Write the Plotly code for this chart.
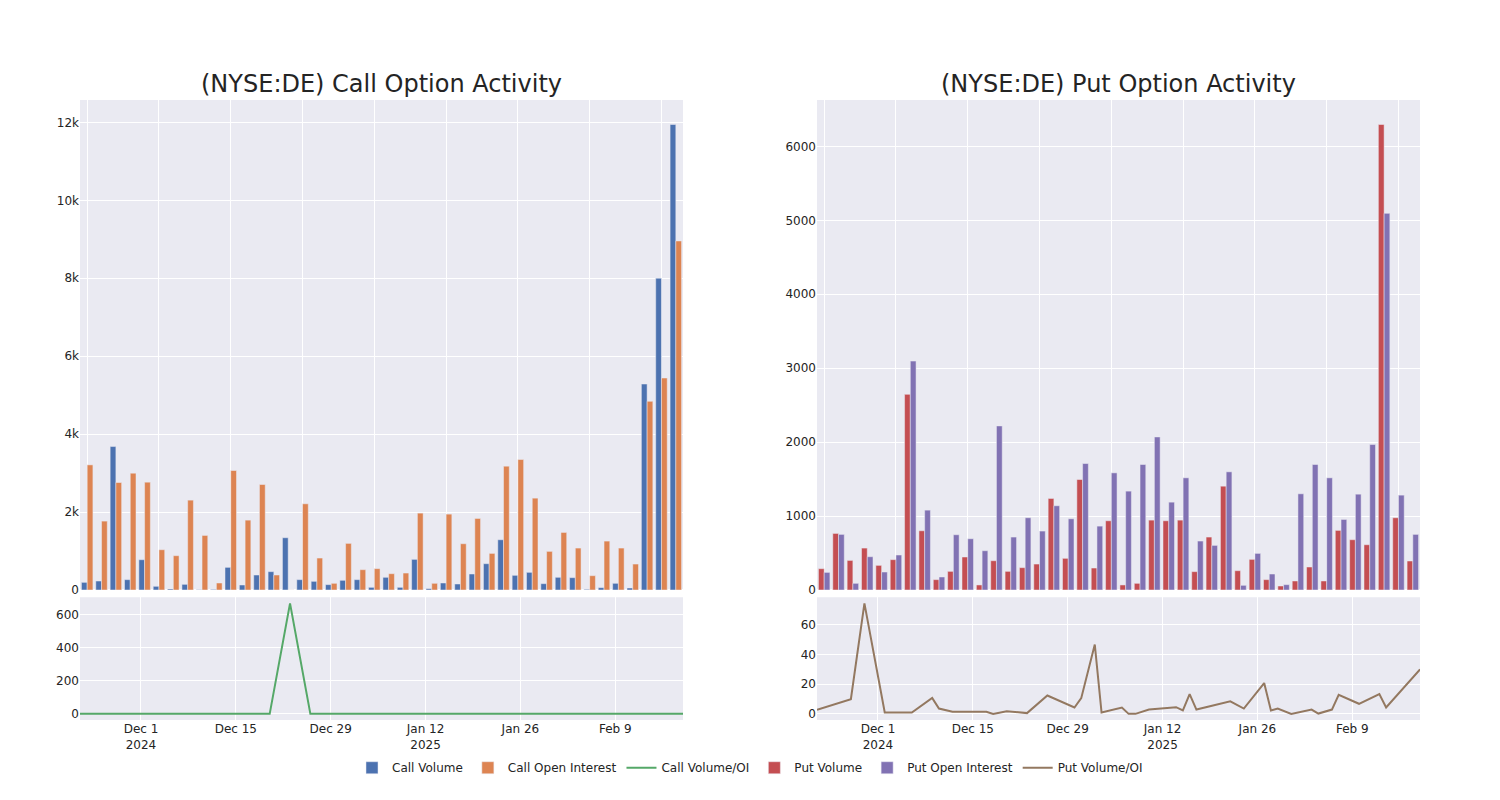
import plotly.graph_objects as go
from plotly.subplots import make_subplots

dates = [
    "2024-11-22", "2024-11-27", "2024-11-29", "2024-12-02", "2024-12-03", "2024-12-04",
    "2024-12-06", "2024-12-09", "2024-12-10", "2024-12-12", "2024-12-13", "2024-12-17",
    "2024-12-18", "2024-12-20", "2024-12-23", "2024-12-26", "2024-12-30", "2024-12-31",
    "2025-01-02", "2025-01-03", "2025-01-06", "2025-01-07", "2025-01-08", "2025-01-10",
    "2025-01-14", "2025-01-15", "2025-01-16", "2025-01-17", "2025-01-22", "2025-01-24",
    "2025-01-27", "2025-01-28", "2025-01-29", "2025-01-31", "2025-02-03", "2025-02-04",
    "2025-02-06", "2025-02-07", "2025-02-10", "2025-02-13", "2025-02-14", "2025-02-19",
]

call_volume = [196, 230, 3681, 265, 777, 94, 26, 145, 8, 15, 581, 128, 384, 470, 1341,
               265, 222, 137, 248, 265, 68, 325, 68, 786, 34, 179, 154, 410, 675, 1289,
               376, 453, 162, 325, 316, 17, 60, 171, 51, 5286, 8002, 11947]
call_oi = [3211, 1768, 2758, 2997, 2767, 1033, 880, 2306, 1400, 179, 3066, 1793, 2707, 384, 2,
           2212, 820, 171, 1196, 521, 547, 418, 435, 1973, 171, 1947, 1187, 1836, 939, 3177,
           3348, 2357, 991, 1477, 1076, 367, 1255, 1076, 666, 4842, 5440, 8958]
call_ratio = [0, 0, 0, 0, 0, 0, 0, 0, 0, 0, 0, 0, 0, 0, 670,
              0, 0, 0, 0, 0, 0, 0, 0, 0, 0, 0, 0, 0, 0, 0,
              0, 0, 0, 0, 0, 0, 0, 0, 0, 0, 0, 0]

put_volume = [288, 765, 400, 567, 333, 410, 2646, 801, 140, 252, 446, 68, 396, 252, 302,
              351, 1238, 428, 1494, 297, 936, 68, 90, 945, 936, 945, 248, 716, 1404, 261,
              414, 140, 54, 122, 311, 122, 806, 680, 612, 6296, 977, 392]
put_oi = [238, 752, 90, 450, 243, 473, 3096, 1080, 176, 747, 693, 531, 2219, 716, 977,
          797, 1139, 963, 1710, 864, 1584, 1337, 1697, 2070, 1188, 1517, 662, 603, 1598, 63,
          495, 216, 72, 1301, 1697, 1517, 954, 1296, 1967, 5094, 1283, 752]
put_ratio = [2.7, 9.9, 74.5, 0.9, 0.9, 0.9, 0.9, 10.8, 3.6, 1.4, 1.4, 1.4, 0.0, 1.8, 0.5,
             12.4, 4.3, 10.6, 46.7, 0.9, 4.3, 0.0, 0.0, 2.9, 4.5, 2.3, 13.3, 2.9, 8.4, 3.6,
             20.8, 2.3, 3.6, 0.0, 2.9, 0.2, 2.9, 12.9, 6.8, 13.3, 4.3, 30.0]

titles = ["(NYSE:DE) Call Option Activity", "(NYSE:DE) Put Option Activity"]

C_BLUE = "#4C72B0"
C_ORANGE = "#DD8452"
C_GREEN = "#55A868"
C_RED = "#C44E52"
C_PURPLE = "#8172B3"
C_BROWN = "#937860"

fig = make_subplots(rows=2, cols=2)

bar_line = dict(color="rgb(234,234,242)", width=0.5)

fig.add_trace(go.Bar(x=dates, y=call_volume, name="Call Volume", marker=dict(color=C_BLUE, line=bar_line)), row=1, col=1)
fig.add_trace(go.Bar(x=dates, y=call_oi, name="Call Open Interest", marker=dict(color=C_ORANGE, line=bar_line)), row=1, col=1)
fig.add_trace(go.Scatter(x=dates, y=call_ratio, name="Call Volume/OI", mode="lines", line=dict(color=C_GREEN, width=2)), row=2, col=1)
fig.add_trace(go.Bar(x=dates, y=put_volume, name="Put Volume", marker=dict(color=C_RED, line=bar_line)), row=1, col=2)
fig.add_trace(go.Bar(x=dates, y=put_oi, name="Put Open Interest", marker=dict(color=C_PURPLE, line=bar_line)), row=1, col=2)
fig.add_trace(go.Scatter(x=dates, y=put_ratio, name="Put Volume/OI", mode="lines", line=dict(color=C_BROWN, width=2)), row=2, col=2)

top_dom = [0.2097, 1.0]
bot_dom = [0.0, 0.198]
left_dom = [0.0, 0.45]
right_dom = [0.55, 1.0]

cat_axis = dict(type="category", tickmode="linear", tick0=0, dtick=5, showticklabels=False)

fig.update_layout(
    template="seaborn",
    width=1500, height=800,
    margin=dict(l=72, r=88, t=92, b=88),
    font=dict(family="DejaVu Sans", size=12, color="rgb(36,36,36)"),
    barmode="group",
    bargap=0.2,
    xaxis=dict(domain=left_dom, anchor="y", **cat_axis),
    xaxis2=dict(domain=right_dom, anchor="y2", **cat_axis),
    xaxis3=dict(domain=left_dom, anchor="y3", type="date"),
    xaxis4=dict(domain=right_dom, anchor="y4", type="date"),
    yaxis=dict(domain=top_dom, anchor="x"),
    yaxis2=dict(domain=top_dom, anchor="x2"),
    yaxis3=dict(domain=bot_dom, anchor="x3"),
    yaxis4=dict(domain=bot_dom, anchor="x4"),
    legend=dict(orientation="h", x=0.5, xanchor="center", y=-0.077, yanchor="middle",
                font=dict(size=12)),
    annotations=[
        dict(text=titles[0], x=sum(left_dom) / 2, y=1.0, xref="paper", yref="paper",
             xanchor="center", yanchor="bottom", showarrow=False, font=dict(size=24)),
        dict(text=titles[1], x=sum(right_dom) / 2, y=1.0, xref="paper", yref="paper",
             xanchor="center", yanchor="bottom", showarrow=False, font=dict(size=24)),
    ],
)

fig.write_html("out.html")
